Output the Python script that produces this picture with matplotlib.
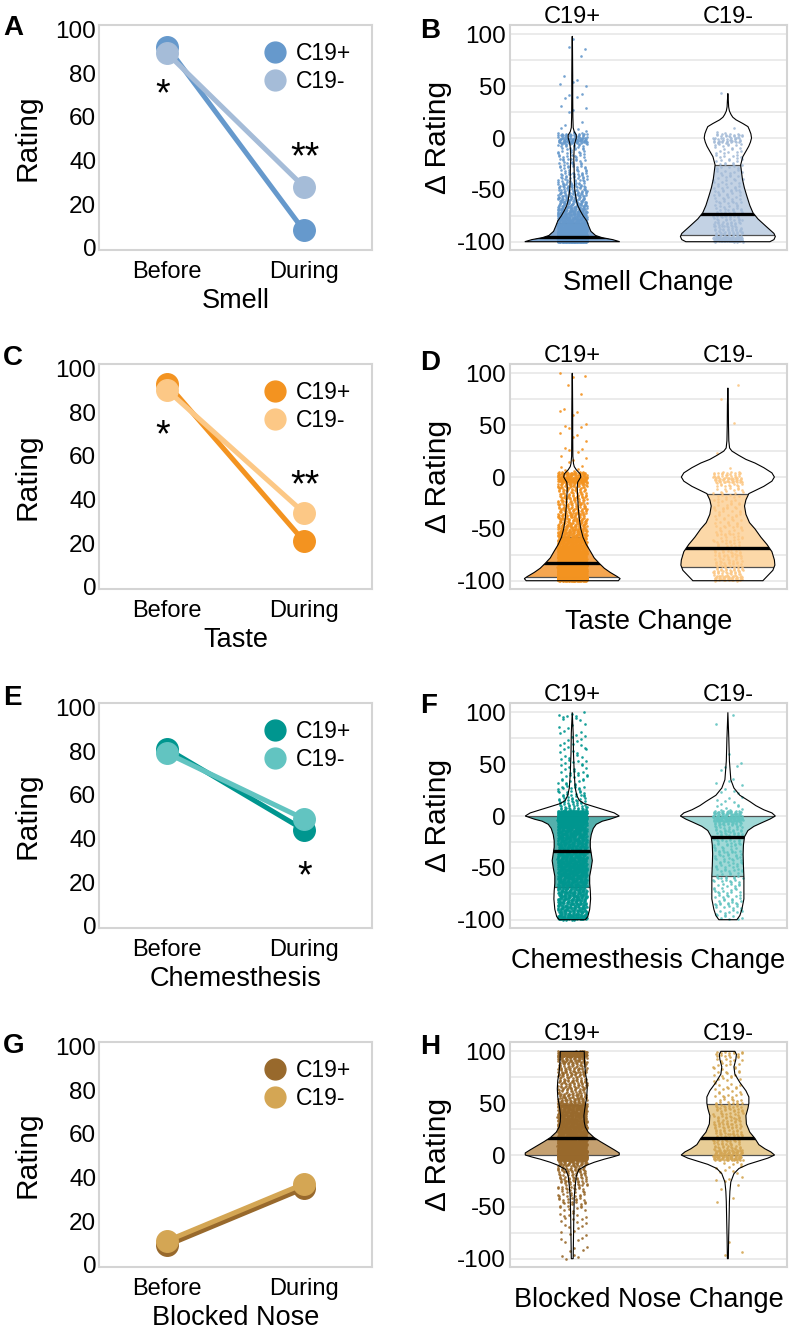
import numpy as np
import matplotlib
matplotlib.use("Agg")
import matplotlib.pyplot as plt
from matplotlib.patches import Polygon, Rectangle
from matplotlib.lines import Line2D

plt.rcParams['font.family'] = ['Liberation Sans', 'DejaVu Sans']
plt.rcParams['axes.unicode_minus'] = False

# ---------------- data ----------------
groups = ["C19+", "C19-"]
times = ["Before", "During"]
senses = ["Smell", "Taste", "Chemesthesis", "Blocked Nose"]

# mean ratings (before, during)
smell_pos = [92, 8]
smell_neg = [89, 28]
taste_pos = [93, 21]
taste_neg = [90, 34]
chem_pos = [81, 44]
chem_neg = [79, 49]
nose_pos = [9, 35]
nose_neg = [11, 37]

# significance marks (text, x index, y position)
smell_sig = [("*", 0, 70), ("**", 1, 41)]
taste_sig = [("*", 0, 69), ("**", 1, 46)]
chem_sig = [("*", 1, 22)]
nose_sig = []

colors_pos = ["#6699CC", "#F39320", "#00968F", "#98692C"]
colors_neg = ["#A5BCD8", "#FCC886", "#62C4C1", "#D4A654"]
fill_pos = ["#7FA6D2", "#F5A650", "#55B0AC", "#C4A070"]
fill_neg = ["#C3D2E4", "#FCD8A8", "#A0D9D7", "#E8CD96"]

# violin outlines: rating values and half widths (x units)
smell_pos_v = [-100, -98, -96, -94, -90, -85, -80, -75, -70, -65, -60, -50, -40, -30, -20, -10, -5, 0, 3, 6, 10, 20, 40, 60, 80, 98]
smell_pos_w = [0.305, 0.26, 0.19, 0.15, 0.12, 0.106, 0.093, 0.07, 0.051, 0.035, 0.026, 0.016, 0.013, 0.012, 0.010, 0.012, 0.016, 0.026, 0.026, 0.013, 0.006, 0.004, 0.003, 0.003, 0.002, 0.001]
smell_neg_v = [-100, -98, -95, -92, -85, -78, -72, -65, -56, -48, -40, -32, -26, -18, -12, -8, -4, 0, 4, 8, 11, 14, 17.5, 20, 22.5, 26, 30, 36, 43]
smell_neg_w = [0.27, 0.296, 0.305, 0.296, 0.244, 0.193, 0.161, 0.141, 0.122, 0.106, 0.094, 0.087, 0.082, 0.096, 0.119, 0.134, 0.145, 0.152, 0.148, 0.138, 0.129, 0.096, 0.053, 0.032, 0.021, 0.010, 0.005, 0.003, 0.0]
taste_pos_v = [-100, -98, -96, -92, -88, -83, -78, -72, -65, -58, -50, -40, -30, -20, -10, -5, 0, 3, 7, 10, 13, 20, 40, 60, 80, 100]
taste_pos_w = [0.296, 0.308, 0.289, 0.244, 0.206, 0.172, 0.141, 0.118, 0.090, 0.069, 0.055, 0.045, 0.039, 0.035, 0.032, 0.035, 0.055, 0.051, 0.026, 0.013, 0.008, 0.004, 0.003, 0.003, 0.002, 0.001]
taste_neg_v = [-100, -95, -90, -85, -80, -72, -65, -58, -50, -44, -36, -28, -22, -16, -9, -4, 0, 4, 9, 13.5, 17, 21, 25, 28, 35, 50, 70, 86]
taste_neg_w = [0.225, 0.257, 0.289, 0.302, 0.299, 0.283, 0.251, 0.212, 0.174, 0.139, 0.116, 0.107, 0.116, 0.135, 0.231, 0.283, 0.299, 0.283, 0.231, 0.174, 0.116, 0.069, 0.026, 0.011, 0.006, 0.004, 0.003, 0.0]
chem_pos_v = [-100, -97, -90, -80, -72, -65, -58, -50, -43, -36, -30, -24, -18, -12, -8, -5, -3, 0, 3, 6, 9, 12, 15, 20, 27, 40, 60, 80, 100]
chem_pos_w = [0.084, 0.100, 0.112, 0.118, 0.116, 0.112, 0.112, 0.122, 0.129, 0.122, 0.116, 0.116, 0.122, 0.135, 0.154, 0.193, 0.244, 0.302, 0.270, 0.206, 0.141, 0.077, 0.045, 0.029, 0.019, 0.013, 0.008, 0.006, 0.0]
chem_neg_v = [-100, -96, -90, -80, -70, -58, -48, -37, -28, -20, -14, -10, -6, -3, 0, 3, 6, 10, 14, 20, 27, 35, 53, 75, 100]
chem_neg_w = [0.058, 0.077, 0.090, 0.103, 0.103, 0.103, 0.100, 0.098, 0.100, 0.107, 0.129, 0.167, 0.225, 0.270, 0.305, 0.283, 0.231, 0.180, 0.141, 0.077, 0.039, 0.019, 0.010, 0.006, 0.0]
nose_pos_v = [-100, -80, -60, -40, -30, -20, -14, -10, -7, -4, -2, 0, 2, 5, 9, 13, 17, 22, 27, 32, 38, 44, 49, 56, 64, 72, 80, 90, 100]
nose_pos_w = [0.006, 0.008, 0.010, 0.013, 0.019, 0.026, 0.043, 0.090, 0.141, 0.206, 0.257, 0.302, 0.302, 0.270, 0.225, 0.180, 0.139, 0.103, 0.084, 0.077, 0.075, 0.080, 0.085, 0.093, 0.096, 0.093, 0.084, 0.079, 0.077]
nose_neg_v = [-100, -80, -60, -45, -35, -26, -18, -13, -9, -6, -3, 0, 3, 6, 10, 16, 22, 30, 38, 45, 50, 56, 62, 70, 78, 85, 92, 97, 100]
nose_neg_w = [0.003, 0.005, 0.008, 0.010, 0.013, 0.019, 0.039, 0.071, 0.129, 0.193, 0.257, 0.300, 0.276, 0.238, 0.199, 0.174, 0.141, 0.119, 0.116, 0.129, 0.135, 0.135, 0.116, 0.077, 0.045, 0.039, 0.051, 0.055, 0.045]

# quartiles (q1, median, q3)
smell_pos_q = [-100, -95, -82]
smell_neg_q = [-94, -73, -26]
taste_pos_q = [-96, -83, -58]
taste_neg_q = [-87, -68, -16]
chem_pos_q = [-68, -34, 0]
chem_neg_q = [-58, -20, 0]
nose_pos_q = [0, 16, 48]
nose_neg_q = [0, 16, 49]

# individual change ratings, counted in 5-point bins from -100 to 100
bin_edges = np.arange(-100, 101, 5)
smell_pos_n = [1050, 200, 150, 110, 85, 70, 55, 45, 38, 32, 27, 22, 18, 16, 14, 13, 12, 12, 18, 60,
               35, 4, 1, 1, 1, 2, 1, 2, 2, 1, 2, 2, 0, 0, 0, 1, 0, 2, 0, 1]
smell_neg_n = [90, 25, 22, 20, 18, 15, 13, 11, 10, 10, 10, 9, 8, 8, 8, 8, 8, 8, 10, 30,
               20, 2, 0, 0, 0, 0, 0, 0, 1, 0, 0, 0, 0, 0, 0, 0, 0, 0, 0, 0]
taste_pos_n = [600, 200, 170, 150, 130, 110, 95, 80, 70, 60, 50, 45, 40, 36, 33, 30, 30, 30, 40, 110,
               60, 4, 2, 2, 2, 3, 1, 1, 2, 3, 1, 1, 2, 1, 0, 1, 0, 1, 0, 3]
taste_neg_n = [50, 25, 20, 18, 16, 15, 14, 12, 11, 11, 10, 10, 9, 9, 9, 9, 9, 10, 14, 40,
               25, 1, 0, 0, 1, 0, 0, 0, 0, 0, 1, 0, 0, 0, 0, 1, 0, 1, 0, 0]
chem_pos_n = [80, 60, 60, 60, 65, 65, 65, 70, 75, 85, 85, 75, 70, 65, 65, 70, 75, 80, 100, 250,
              180, 25, 18, 14, 12, 10, 8, 7, 6, 6, 6, 5, 5, 5, 4, 4, 3, 3, 3, 6]
chem_neg_n = [8, 8, 9, 10, 10, 10, 10, 10, 10, 11, 11, 12, 12, 12, 13, 14, 16, 18, 25, 70,
              50, 6, 4, 3, 3, 2, 2, 1, 1, 2, 1, 1, 0, 0, 0, 0, 0, 1, 0, 1]
nose_pos_n = [4, 2, 2, 3, 3, 3, 4, 5, 6, 7, 10, 11, 13, 15, 17, 20, 25, 32, 50, 280,
              250, 120, 110, 100, 95, 90, 85, 80, 75, 80, 40, 35, 30, 30, 30, 30, 30, 35, 45, 150]
nose_neg_n = [1, 1, 0, 1, 0, 0, 0, 0, 0, 0, 1, 1, 0, 1, 2, 3, 3, 4, 6, 60,
              45, 20, 20, 20, 19, 18, 17, 16, 15, 16, 10, 8, 7, 6, 6, 6, 6, 7, 8, 15]

line_data = [(smell_pos, smell_neg, smell_sig), (taste_pos, taste_neg, taste_sig),
             (chem_pos, chem_neg, chem_sig), (nose_pos, nose_neg, nose_sig)]
violin_data = [
    [(smell_pos_v, smell_pos_w, smell_pos_q, smell_pos_n), (smell_neg_v, smell_neg_w, smell_neg_q, smell_neg_n)],
    [(taste_pos_v, taste_pos_w, taste_pos_q, taste_pos_n), (taste_neg_v, taste_neg_w, taste_neg_q, taste_neg_n)],
    [(chem_pos_v, chem_pos_w, chem_pos_q, chem_pos_n), (chem_neg_v, chem_neg_w, chem_neg_q, chem_neg_n)],
    [(nose_pos_v, nose_pos_w, nose_pos_q, nose_pos_n), (nose_neg_v, nose_neg_w, nose_neg_q, nose_neg_n)],
]
letters = [("A", "B"), ("C", "D"), ("E", "F"), ("G", "H")]
letter_y = [(28, 31), (358, 363), (698, 706), (1046, 1047)]

# ---------------- figure ----------------
W, H = 790, 1331
fig = plt.figure(figsize=(W / 100, H / 100), dpi=100)
row_top = [25, 364, 703, 1042]
ax_h = 225
frame_col = "#D4D4D4"


def spread(counts, n_off):
    """place binned values inside their bins (R2 low-discrepancy layout)"""
    ys, xs = [], []
    n = n_off
    for i, c in enumerate(counts):
        lo = bin_edges[i]
        for k in range(c):
            n += 1
            ys.append(lo + 5 * ((n * 0.7548776662) % 1))
            xs.append(2 * ((n * 0.5698402910) % 1) - 1)
    return np.array(xs), np.array(ys)


for r in range(4):
    pos, neg, sig = line_data[r]
    b = 1 - (row_top[r] + ax_h) / H

    # ---- left: before / during ratings ----
    ax = fig.add_axes([99 / W, b, 273 / W, ax_h / H])
    ax.plot([0, 1], pos, color=colors_pos[r], lw=3.6, marker="o", ms=15.5, zorder=3)
    ax.plot([0, 1], neg, color=colors_neg[r], lw=3.6, marker="o", ms=15.5, zorder=4)
    for s, xi, yv in sig:
        ax.text(xi - 0.03 if xi == 0 else xi + 0.01, yv, s, fontsize=27, ha="center", va="center")
    ax.set_xlim(-0.5, 1.5)
    ax.set_ylim(-1, 102)
    ax.set_yticks(range(0, 101, 20))
    ax.set_xticks([0, 1])
    ax.set_xticklabels(times)
    ax.tick_params(length=0, labelsize=17.5, pad=2)
    ax.tick_params(axis="x", labelsize=17, pad=8)
    for sp in ax.spines.values():
        sp.set_color(frame_col)
        sp.set_linewidth(1.5)
    ax.set_ylabel("Rating", fontsize=21.5)
    ax.yaxis.set_label_coords(-0.21, 0.5)
    ax.set_xlabel(senses[r], fontsize=19.5)
    ax.xaxis.set_label_coords(0.5, -0.17)
    hd = [Line2D([], [], ls="none", marker="o", ms=15, color=colors_pos[r]),
          Line2D([], [], ls="none", marker="o", ms=15, color=colors_neg[r])]
    ax.legend(hd, groups, loc="upper left", bbox_to_anchor=(0.57, 0.965), frameon=False,
              fontsize=16.5, handlelength=1.0, handletextpad=0.4, labelspacing=0.2,
              borderaxespad=0)

    # ---- right: change violins ----
    ax2 = fig.add_axes([510 / W, b, 277 / W, ax_h / H])
    ax2.set_xlim(-0.4, 1.38)
    ax2.set_ylim(-108, 109)
    ax2.set_yticks(range(-100, 101, 50))
    ax2.set_yticks(range(-100, 101, 25), minor=True)
    ax2.grid(axis="y", which="both", color="#E8E8E8", lw=1.2, zorder=0)
    ax2.set_axisbelow(True)
    for j in range(2):
        vv, ww, qq, nn = violin_data[r][j]
        vv = np.array(vv)
        ww = np.array(ww)
        verts = np.vstack([np.column_stack([j - ww, vv]),
                           np.column_stack([j + ww[::-1], vv[::-1]])])
        body = Polygon(verts, closed=True, fc="white", ec="none", zorder=1)
        ax2.add_patch(body)
        iqr = Rectangle((j - 1, qq[0]), 2, qq[2] - qq[0], fc=(fill_pos if j == 0 else fill_neg)[r],
                        ec="none", zorder=2)
        ax2.add_patch(iqr)
        iqr.set_clip_path(body)
        for q in (qq[0], qq[2]):
            ln = ax2.hlines(q, j - 1, j + 1, color="#505050", lw=0.9, zorder=3)
            ln.set_clip_path(body)
        jx, jy = spread(nn, 1000 * j)
        ax2.scatter(j + 0.095 * jx, jy, s=3.6, color=(colors_pos if j == 0 else colors_neg)[r],
                    linewidths=0, alpha=0.9, zorder=4)
        md = ax2.hlines(qq[1], j - 1, j + 1, color="black", lw=2.4, zorder=5)
        md.set_clip_path(body)
        ax2.add_patch(Polygon(verts, closed=True, fill=False, ec="black", lw=0.8, zorder=6))
    ax2.set_xticks([0, 1])
    ax2.set_xticklabels(groups)
    ax2.xaxis.tick_top()
    ax2.tick_params(which="both", length=0, labelsize=17, pad=-2)
    ax2.tick_params(axis="y", labelsize=17.5, pad=3)
    for sp in ax2.spines.values():
        sp.set_color(frame_col)
        sp.set_linewidth(1.5)
    ax2.set_ylabel("\u0394 Rating", fontsize=21.5)
    ax2.yaxis.set_label_coords(-0.21, 0.5)
    ax2.set_xlabel(senses[r] + " Change", fontsize=19.5)
    ax2.xaxis.set_label_position("bottom")
    ax2.xaxis.set_label_coords(0.5, -0.09)

    # panel letters
    fig.text(3 / W, 1 - letter_y[r][0] / H, letters[r][0], fontsize=20, fontweight="bold",
             va="center", ha="left")
    fig.text(420 / W, 1 - letter_y[r][1] / H, letters[r][1], fontsize=20, fontweight="bold",
             va="center", ha="left")

fig.savefig("out.png", dpi=100, facecolor="white")
